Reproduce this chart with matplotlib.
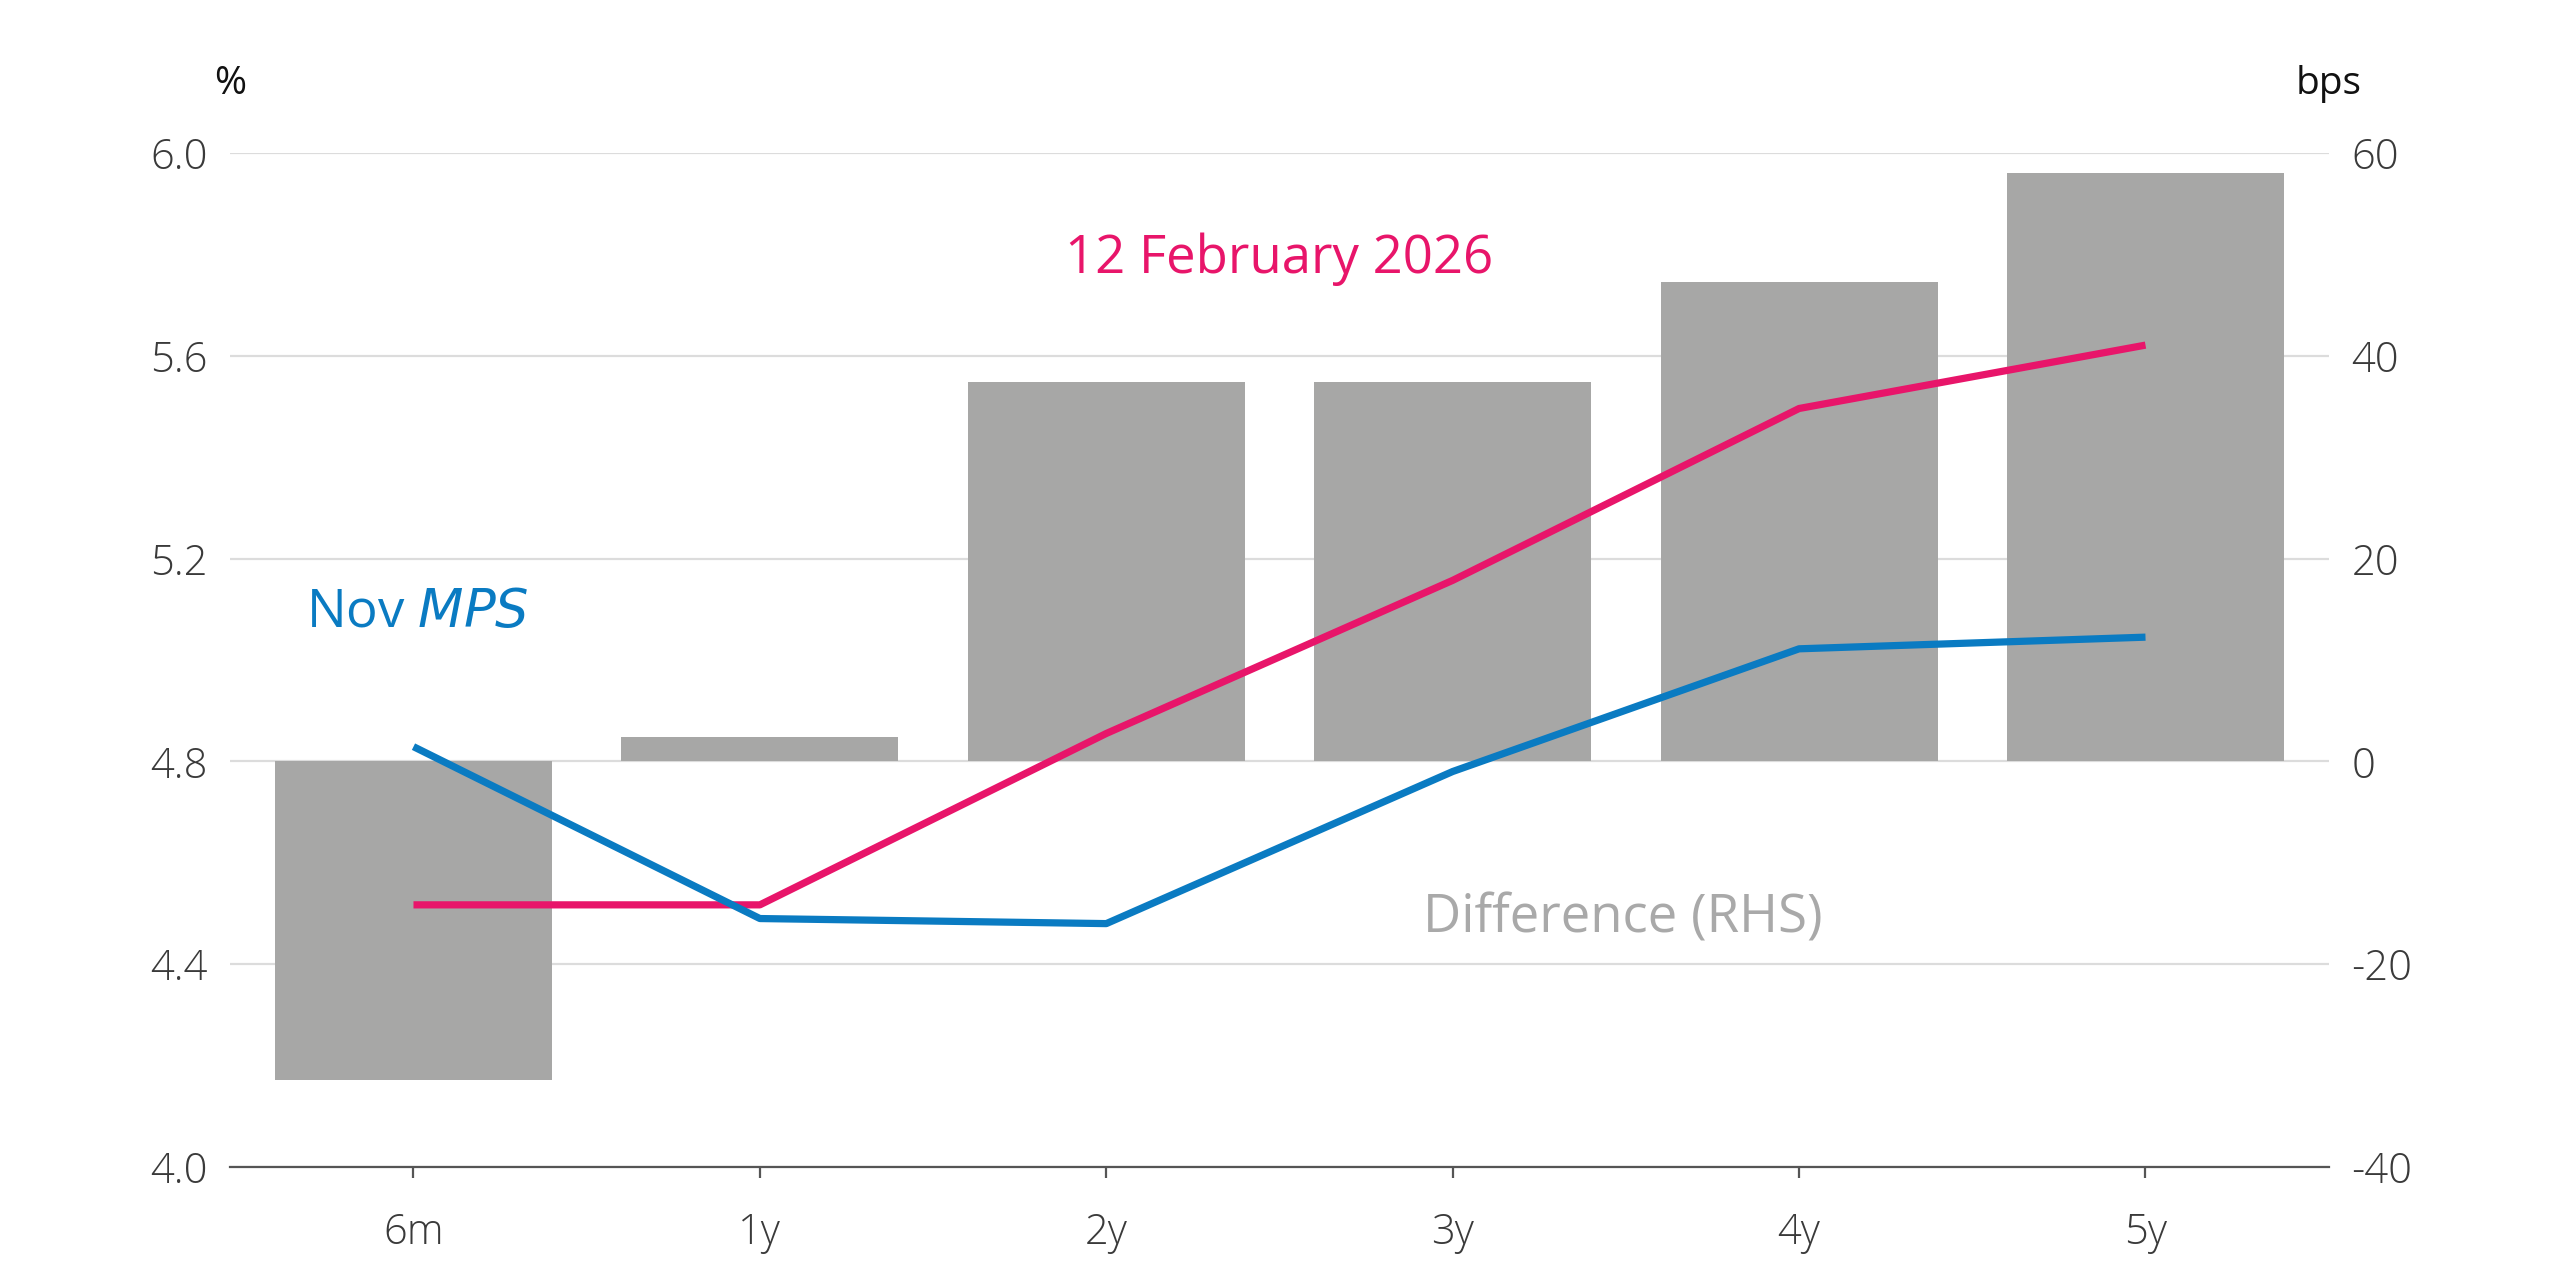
import matplotlib
matplotlib.use("Agg")
import matplotlib.pyplot as plt
import numpy as np

plt.rcParams['font.family'] = ['Open Sans', 'DejaVu Sans']

categories = ["6m", "1y", "2y", "3y", "4y", "5y"]
feb_2026 = [4.517, 4.517, 4.855, 5.157, 5.496, 5.621]
nov_mps = [4.829, 4.490, 4.480, 4.780, 5.022, 5.045]
difference_bps = [-31.4, 2.4, 37.4, 37.4, 47.3, 58.0]
left_ticks = [4.0, 4.4, 4.8, 5.2, 5.6, 6.0]
right_ticks = [-40, -20, 0, 20, 40, 60]

PINK = "#E8156A"
BLUE = "#0A7BC2"
GREY = "#A7A7A6"
TEXT = "#3A3A3A"

fig = plt.figure(figsize=(12.8, 6.4), dpi=200)
ax2 = fig.add_axes([0.0898, 0.0883, 0.82, 0.7922])
ax = ax2.twinx()
ax.yaxis.set_label_position("left")
ax.yaxis.tick_left()
ax2.yaxis.set_label_position("right")
ax2.yaxis.tick_right()

x = np.arange(len(categories))

ax2.set_axisbelow(True)
ax2.grid(axis='y', color='#DCDCDC', linewidth=0.8)
ax2.bar(x, difference_bps, width=0.8, color=GREY, zorder=2)
ax2.set_ylim(-40, 60)
ax2.set_yticks(right_ticks)
ax2.set_yticklabels([str(t) for t in right_ticks])

ax.plot(x, feb_2026, color=PINK, linewidth=2.6, solid_capstyle='butt', zorder=3)
ax.plot(x, nov_mps, color=BLUE, linewidth=2.6, solid_capstyle='butt', zorder=3)
ax.set_ylim(4.0, 6.0)
ax.set_yticks(left_ticks)
ax.set_yticklabels([f"{t:.1f}" for t in left_ticks])
ax.set_xlim(-0.53, 5.53)
ax2.set_xlim(-0.53, 5.53)
ax2.set_xticks(x)
ax2.set_xticklabels(categories)

for a in (ax, ax2):
    for s in ["top", "left", "right", "bottom"]:
        a.spines[s].set_visible(False)
ax2.spines["bottom"].set_visible(True)
ax2.spines["bottom"].set_color("#555555")
ax2.spines["bottom"].set_linewidth(0.8)

ax.tick_params(axis='y', length=0, labelsize=15, labelcolor=TEXT, pad=8)
ax2.tick_params(axis='y', length=0, labelsize=15, labelcolor=TEXT, pad=8)
ax2.tick_params(axis='x', length=4, width=0.8, color="#555555", labelsize=15, labelcolor=TEXT, pad=12)
ax.tick_params(axis='x', length=0, labelbottom=False)
for lab in ax.get_yticklabels() + ax2.get_yticklabels() + ax2.get_xticklabels():
    lab.set_fontweight('light')

ax.text(2.5, 5.79, "12 February 2026", color=PINK, fontsize=19, ha='center', va='center')
ax.text(-0.31, 5.093, "Nov $\\it{MPS}$", color=BLUE, fontsize=19, ha='left', va='center')
ax.text(3.49, 4.49, "Difference (RHS)", color="#A9A9A9", fontsize=19, ha='center', va='center')

fig.text(0.0898, 0.934, "%", fontsize=14, color="#111111", ha='center', va='center')
fig.text(0.9098, 0.934, "bps", fontsize=14, color="#111111", ha='center', va='center')

fig.savefig("out.png", dpi=200, facecolor="white")
